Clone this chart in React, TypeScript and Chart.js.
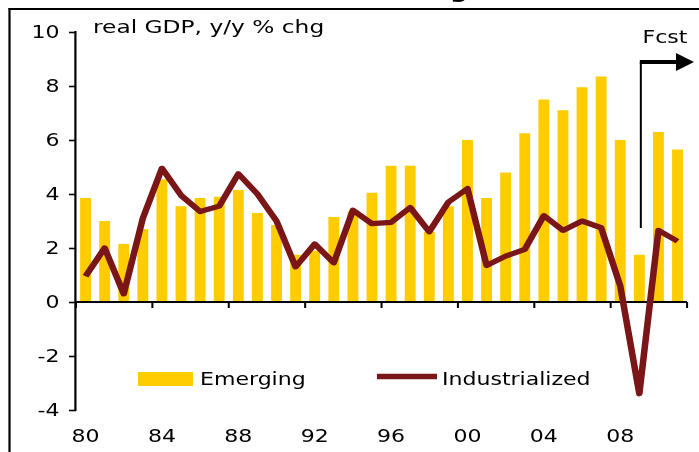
import React, { useEffect, useRef } from 'react';
import { Chart, registerables } from 'chart.js';

Chart.register(...registerables);

// ---- data ----
const years = [
  '80', '81', '82', '83', '84', '85', '86', '87', '88', '89',
  '90', '91', '92', '93', '94', '95', '96', '97', '98', '99',
  '00', '01', '02', '03', '04', '05', '06', '07', '08', '09',
  '10', '11',
];
const emerging = [
  3.85, 3.0, 2.15, 2.7, 4.55, 3.55, 3.85, 3.9, 4.15, 3.3,
  2.85, 1.75, 1.9, 3.15, 3.35, 4.05, 5.05, 5.05, 2.6, 3.55,
  6.0, 3.85, 4.8, 6.25, 7.5, 7.1, 7.95, 8.35, 6.0, 1.75,
  6.3, 5.65,
];
const industrialized = [
  0.95, 2.0, 0.3, 3.1, 4.95, 3.95, 3.35, 3.55, 4.75, 4.0,
  3.0, 1.3, 2.15, 1.45, 3.4, 2.9, 2.95, 3.5, 2.6, 3.7,
  4.2, 1.35, 1.7, 1.95, 3.2, 2.65, 3.0, 2.75, 0.6, -3.4,
  2.65, 2.25,
];
const seriesNames = ['Emerging', 'Industrialized'];
const yMin = -4;
const yMax = 10;
const yStep = 2;
const labelEvery = 4;
const forecastStartIndex = 29; // 2009
const axisTitle = 'real GDP, y/y % chg';
const forecastLabel = 'Fcst';
const chartTitle = 'Global Growth Slowing';

// ---- look ----
const PAGE_W = 699;
const PAGE_H = 452;
const LOGICAL_W = 555;
const SX = PAGE_W / LOGICAL_W;
const lx = (p: number) => p / SX;
const FONT = "'DejaVu Sans', Verdana, sans-serif";
const FONT_SIZE = 17.5;
const BAR_COLOR = '#FFCC00';
const LINE_COLOR = '#7A1518';

const stretchPlugin = {
  id: 'stretch',
  beforeDraw(chart: any) {
    chart.ctx.setTransform(SX, 0, 0, 1, 0, 0);
  },
};

const zeroAxisPlugin = {
  id: 'zeroAxis',
  afterDatasetDraw(chart: any, args: any) {
    if (args.meta.type !== 'bar') return;
    const { ctx, chartArea: a, scales } = chart;
    const y0 = scales.y.getPixelForValue(0);
    const n = chart.data.labels.length;
    const cw = (a.right - a.left) / n;
    ctx.save();
    ctx.setTransform(SX, 0, 0, 1, 0, 0);
    ctx.strokeStyle = '#000';
    ctx.lineWidth = 2;
    ctx.beginPath();
    ctx.moveTo(a.left, y0);
    ctx.lineTo(a.right, y0);
    ctx.stroke();
    ctx.lineWidth = 1.6;
    ctx.beginPath();
    for (let i = 0; i <= n; i += labelEvery) {
      const x = a.left + i * cw;
      ctx.moveTo(x, y0);
      ctx.lineTo(x, y0 + 6);
    }
    ctx.stroke();
    ctx.restore();
  },
};

const decorPlugin = {
  id: 'decor',
  afterDraw(chart: any) {
    const { ctx, scales, chartArea: a } = chart;
    ctx.save();
    ctx.setTransform(SX, 0, 0, 1, 0, 0);

    // frame
    ctx.strokeStyle = '#000';
    ctx.lineWidth = 2;
    ctx.beginPath();
    ctx.moveTo(lx(8.5), 9);
    ctx.lineTo(LOGICAL_W + 2, 9);
    ctx.stroke();
    ctx.lineWidth = lx(2.2);
    ctx.beginPath();
    ctx.moveTo(lx(9.5), 8);
    ctx.lineTo(lx(9.5), PAGE_H + 2);
    ctx.stroke();

    // y-axis tick marks and labels
    ctx.fillStyle = '#000';
    ctx.lineWidth = 1.6;
    ctx.font = `${FONT_SIZE}px ${FONT}`;
    ctx.textAlign = 'right';
    ctx.textBaseline = 'middle';
    for (const t of scales.y.ticks) {
      const py = Math.round(scales.y.getPixelForValue(t.value)) + 0.5;
      ctx.beginPath();
      ctx.moveTo(a.left - lx(7), py);
      ctx.lineTo(a.left, py);
      ctx.stroke();
      ctx.fillText(String(t.label), lx(59.5), py + 1);
    }

    // cut-off title
    ctx.textBaseline = 'alphabetic';
    ctx.font = `bold 20px ${FONT}`;
    ctx.textAlign = 'right';
    ctx.fillText(chartTitle, lx(468), -2.2);

    // axis title
    ctx.font = `18.5px ${FONT}`;
    ctx.textAlign = 'left';
    ctx.fillText(axisTitle, lx(93), 33);

    // forecast arrow
    const vx = scales.x.getPixelForValue(forecastStartIndex) + lx(1.5);
    ctx.lineWidth = lx(2);
    ctx.beginPath();
    ctx.moveTo(vx, 228);
    ctx.lineTo(vx, 62);
    ctx.stroke();
    ctx.lineWidth = 4;
    ctx.beginPath();
    ctx.moveTo(vx - lx(1), 62);
    ctx.lineTo(lx(678), 62);
    ctx.stroke();
    ctx.beginPath();
    ctx.moveTo(lx(676), 53);
    ctx.lineTo(lx(694), 62);
    ctx.lineTo(lx(676), 71);
    ctx.closePath();
    ctx.fill();
    ctx.font = `${FONT_SIZE}px ${FONT}`;
    ctx.textAlign = 'center';
    ctx.fillText(forecastLabel, lx(665), 43);

    // legend
    const ds = chart.data.datasets;
    ctx.fillStyle = ds[0].backgroundColor;
    ctx.fillRect(lx(138), 372, lx(193) - lx(138), 14);
    ctx.strokeStyle = ds[1].borderColor;
    ctx.lineWidth = 5.5;
    ctx.beginPath();
    ctx.moveTo(lx(377), 376.5);
    ctx.lineTo(lx(437), 376.5);
    ctx.stroke();
    ctx.fillStyle = '#000';
    ctx.textAlign = 'left';
    ctx.font = `${FONT_SIZE}px ${FONT}`;
    ctx.fillText(ds[0].label, lx(200), 385);
    ctx.fillText(ds[1].label, lx(442), 385);

    ctx.restore();
  },
};

export default function App() {
  const ref = useRef<HTMLCanvasElement | null>(null);

  useEffect(() => {
    const canvas = ref.current!;
    canvas.width = LOGICAL_W;
    canvas.height = PAGE_H;
    canvas.style.width = PAGE_W + 'px';
    canvas.style.height = PAGE_H + 'px';

    const chart = new Chart(canvas, {
      type: 'bar',
      data: {
        labels: years,
        datasets: [
          {
            type: 'bar',
            label: seriesNames[0],
            data: emerging,
            backgroundColor: BAR_COLOR,
            borderWidth: 0,
            barPercentage: 0.57,
            categoryPercentage: 1.0,
            order: 2,
          },
          {
            type: 'line',
            label: seriesNames[1],
            data: industrialized,
            borderColor: LINE_COLOR,
            backgroundColor: LINE_COLOR,
            borderWidth: 5.2,
            borderJoinStyle: 'round',
            pointRadius: 0,
            tension: 0,
            fill: false,
            order: 1,
          },
        ],
      } as any,
      options: {
        responsive: false,
        animation: false,
        events: [],
        layout: { padding: { top: 32, right: LOGICAL_W - lx(695), bottom: 0, left: 0 } },
        plugins: {
          legend: { display: false },
          tooltip: { enabled: false },
          title: { display: false },
        },
        scales: {
          x: {
            grid: { display: false, drawTicks: false },
            border: { display: false },
            ticks: {
              autoSkip: false,
              maxRotation: 0,
              minRotation: 0,
              padding: 17,
              color: '#000',
              font: { family: FONT, size: FONT_SIZE },
              callback: (_v: any, i: number) => (i % labelEvery === 0 ? years[i] : ''),
            },
            afterFit: (s: any) => {
              s.height = 42;
            },
          },
          y: {
            min: yMin,
            max: yMax,
            grid: { display: false, drawTicks: false },
            border: { display: true, color: '#000', width: lx(2.2) },
            ticks: {
              display: false,
              stepSize: yStep,
              font: { family: FONT, size: FONT_SIZE },
            },
            afterFit: (s: any) => {
              s.width = lx(76);
            },
          },
        },
      } as any,
      plugins: [stretchPlugin, zeroAxisPlugin, decorPlugin],
    });

    canvas.width = PAGE_W;
    chart.draw();

    return () => {
      chart.destroy();
    };
  }, []);

  return (
    <div style={{ position: 'fixed', left: 0, top: 0, width: PAGE_W, height: PAGE_H, background: '#fff' }}>
      <canvas ref={ref} style={{ display: 'block' }} />
    </div>
  );
}
